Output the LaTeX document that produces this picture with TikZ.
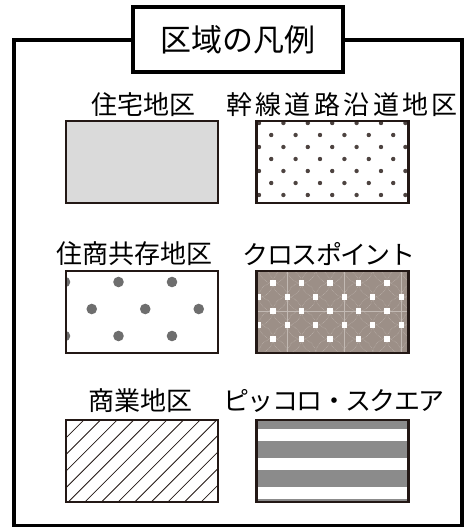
\documentclass[tikz,border=0pt]{standalone}
\usepackage{fontspec}
\setmainfont{Noto Sans CJK JP}
\usetikzlibrary{calc}
\definecolor{edge}{HTML}{231815}
\definecolor{lightfill}{HTML}{DADADA}
\definecolor{dotbrown}{HTML}{4D4340}
\definecolor{dotgray}{HTML}{6E6E6E}
\definecolor{taupe}{HTML}{9C8F87}
\definecolor{taupeline}{HTML}{C2B9B3}
\definecolor{stripegray}{HTML}{8B8B8B}
\tikzset{
  legbox/.style={draw=edge, line width=2.5pt, minimum width=152pt, minimum height=82pt, inner sep=0pt, outer sep=0pt},
  leglabel/.style={font=\fontsize{26}{30}\selectfont, inner sep=0pt},
  frameline/.style={draw=black, line width=3.4pt}
}
\begin{document}
\begin{tikzpicture}[x=1pt,y=-1pt]
\useasboundingbox (0,0) rectangle (465,527);
% outer frame
\draw[frameline] (14,40) rectangle (462,525.5);
\node[frameline, fill=white, minimum width=210pt, minimum height=65pt, inner sep=0pt,
      font=\fontsize{31}{34}\selectfont] (title) at (238,39.5) {区域の凡例};

% labels
\node[leglabel] (l1) at (143,105) {住宅地区};
\node[leglabel] (l2) at (342,105) {\addfontfeature{LetterSpace=13}幹線道路沿道地区\hspace{-3.4pt}};
\node[leglabel] (l3) at (134,254) {住商共存地区};
\node[leglabel] (l4) at (329,254) {\addfontfeature{LetterSpace=-6}クロスポイント\hspace{1.6pt}};
\node[leglabel] (l5) at (140,401) {商業地区};
\node[leglabel] (l6) at (334,401) {\addfontfeature{LetterSpace=-6}ピッコロ・スクエア\hspace{1.6pt}};

% box 1 : residential
\node[legbox, fill=lightfill] (b1) at (142,162) {};

% box 2 : small dots
\node[legbox] (b2) at (332.5,162) {};
\begin{scope}
  \clip (b2.south west) rectangle (b2.north east);
  \foreach \k in {0,...,6}{
    \pgfmathsetmacro{\yy}{123+12*\k}
    \pgfmathsetmacro{\xo}{mod(\k,2)==0 ? 259 : 271.2}
    \foreach \j in {0,...,6}{
      \fill[dotbrown] (\xo+24.4*\j,\yy) circle (2.2);
    }
  }
\end{scope}
\node[legbox] at (b2) {};

% box 3 : large gray dots
\node[legbox] (b3) at (142,312) {};
\begin{scope}
  \clip (b3.south west) rectangle (b3.north east);
  \foreach \k in {0,1,2}{
    \pgfmathsetmacro{\yy}{282+27*\k}
    \pgfmathsetmacro{\xo}{mod(\k,2)==0 ? 65 : 91.75}
    \foreach \j in {0,...,3}{
      \fill[dotgray] (\xo+53.5*\j,\yy) circle (5.3);
    }
  }
\end{scope}
\node[legbox] at (b3) {};

% box 4 : cross point
\node[legbox, fill=taupe] (b4) at (332.5,312) {};
\begin{scope}
  \clip (b4.south west) rectangle (b4.north east);
  \foreach \xx in {287,344,401}{
    \draw[taupeline, line width=0.5pt] (\xx,260) -- (\xx,360);
  }
  \draw[taupeline, line width=0.5pt] (250,311) -- (415,311);
  \foreach \k in {-1,...,6}{
    \foreach \m in {-1,...,12}{
      \pgfmathtruncatemacro{\parity}{mod(\m+\k+20,2)}
      \ifnum\parity=0
        \draw[taupeline, line width=0.5pt, densely dotted] (258.75+14.25*\m,283+14*\k) circle (14.1);
      \fi
    }
  }
  \foreach \k in {0,...,4}{
    \foreach \m in {0,...,11}{
      \pgfmathtruncatemacro{\parity}{mod(\m+\k,2)}
      \ifnum\parity=1
        \fill[white] (258.75+14.25*\m-2.6,283+14*\k-2.6) rectangle ++(5.2,5.2);
      \fi
    }
  }
\end{scope}
\node[legbox] at (b4) {};

% box 5 : hatching
\node[legbox] (b5) at (142,461) {};
\begin{scope}
  \clip (b5.south west) rectangle (b5.north east);
  \foreach \j in {-12,...,10}{
    \draw[edge, line width=0.8pt] (68.3+16.6*\j-60,562) -- (68.3+16.6*\j+120,382);
  }
\end{scope}
\node[legbox] at (b5) {};

% box 6 : stripes
\node[legbox] (b6) at (332.5,461) {};
\begin{scope}
  \clip (b6.south west) rectangle (b6.north east);
  \foreach \n in {0,...,3}{
    \fill[stripegray] (250,412+29*\n) rectangle (415,429+29*\n);
  }
\end{scope}
\node[legbox] at (b6) {};
\end{tikzpicture}
\end{document}
